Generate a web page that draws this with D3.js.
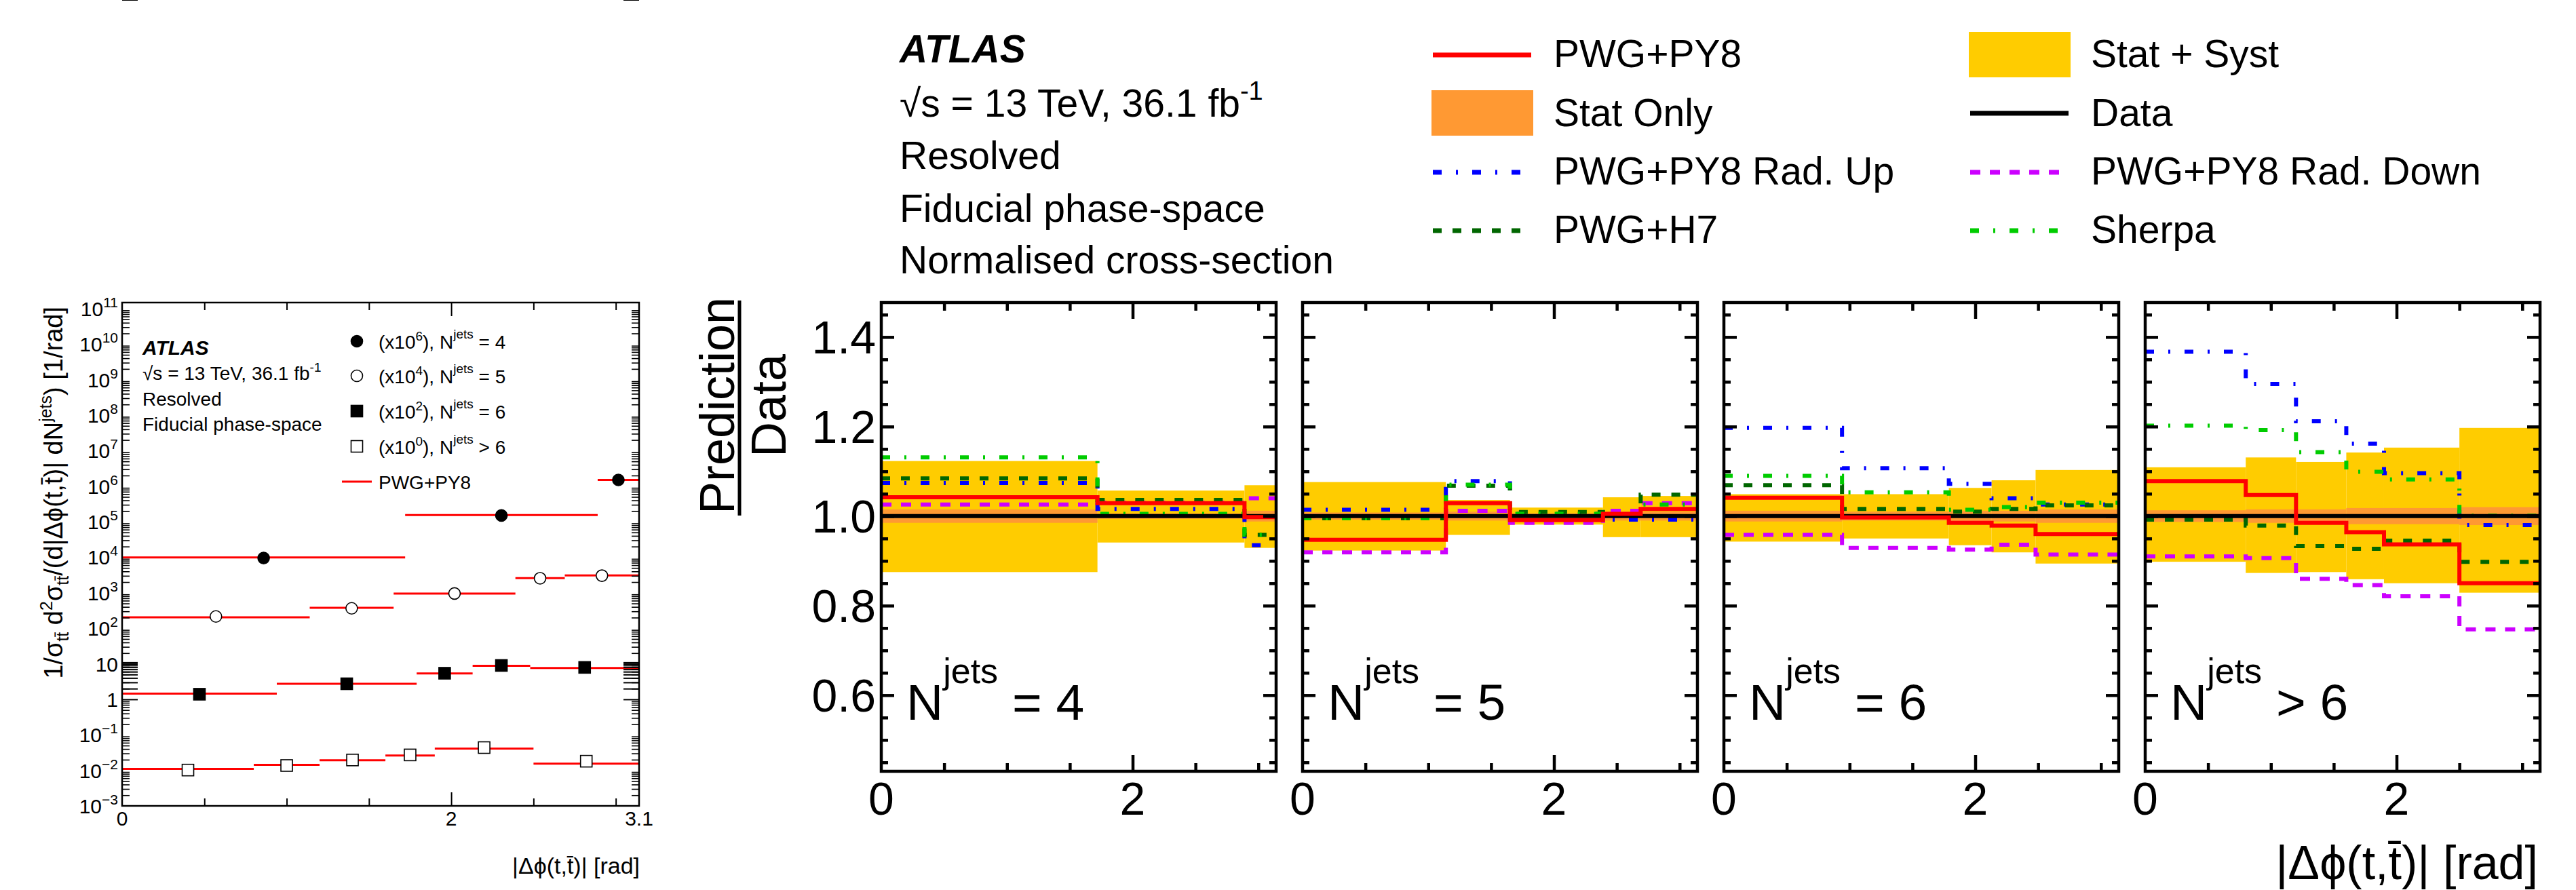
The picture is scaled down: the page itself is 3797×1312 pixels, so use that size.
<!DOCTYPE html>
<html>
<head>
<meta charset="utf-8">
<style>
body { margin: 0; background: #fff; }
svg { display: block; font-family: "Liberation Sans", Arial, Helvetica, sans-serif; }
text { white-space: pre; }
</style>
</head>
<body>
<svg width="3797" height="1312"></svg>
<script src="https://cdn.jsdelivr.net/npm/d3@7"></script>
<script>

// ---- data ----
// bin edges of |dphi(t,tbar)| for each jet multiplicity
var edges = [
  [0, 1.72, 2.89, 3.1416],
  [0, 1.14, 1.65, 2.39, 2.69, 3.1416],
  [0, 0.94, 1.79, 2.13, 2.48, 3.1416],
  [0, 0.8, 1.2, 1.6, 1.9, 2.5, 3.1416]
];
var njetLabels = ["= 4", "= 5", "= 6", "> 6"];
var scaleExp = [6, 4, 2, 0];

// normalised cross-section (unscaled), left panel
var dataXs = [
  [0.0095, 0.150, 1.50],
  [0.0215, 0.0365, 0.0955, 0.256, 0.303],
  [0.0139, 0.0274, 0.0542, 0.0897, 0.0791],
  [0.0102, 0.0137, 0.0196, 0.0272, 0.0438, 0.0181]
];
var pwgXs = [
  [0.0099, 0.154, 1.50],
  [0.0204, 0.0376, 0.0946, 0.257, 0.308],
  [0.0145, 0.0273, 0.0534, 0.0878, 0.0759],
  [0.0110, 0.0143, 0.0193, 0.0262, 0.0410, 0.0154]
];

// ratio prediction / data
var pwgPy8 = [[1.042, 1.029, 0.998], [0.947, 1.029, 0.991, 1.005, 1.016], [1.041, 0.997, 0.985, 0.979, 0.960], [1.078, 1.047, 0.985, 0.964, 0.937, 0.850]];
var radUp = [[1.074, 1.016, 0.935], [1.014, 1.078, 1.005, 0.992, 0.992], [1.197, 1.107, 1.072, 1.040, 1.026], [1.367, 1.295, 1.212, 1.162, 1.096, 0.980]];
var radDown = [[1.026, 1.030, 1.040], [0.919, 1.012, 0.985, 1.012, 1.029], [0.958, 0.929, 0.925, 0.936, 0.914], [0.910, 0.906, 0.860, 0.846, 0.821, 0.747]];
var pwgH7 = [[1.084, 1.036, 0.958], [0.995, 1.068, 1.009, 1.001, 1.048], [1.069, 1.016, 1.010, 1.016, 1.024], [0.992, 0.979, 0.933, 0.927, 0.945, 0.898]];
var sherpa = [[1.131, 1.005, 0.958], [0.995, 1.070, 1.005, 1.001, 1.026], [1.090, 1.053, 1.014, 1.020, 1.030], [1.202, 1.192, 1.143, 1.099, 1.082, 1.001]];
var dataRatio = [[1, 1, 1], [1, 1, 1, 1, 1], [1, 1, 1, 1, 1], [1, 1, 1, 1, 1, 1]];
// stat+syst band and stat only band
var totLo = [[0.875, 0.941, 0.929], [0.923, 0.958, 0.981, 0.953, 0.953], [0.943, 0.950, 0.935, 0.919, 0.894], [0.898, 0.873, 0.875, 0.859, 0.850, 0.829]];
var totHi = [[1.123, 1.057, 1.069], [1.076, 1.036, 1.019, 1.042, 1.045], [1.049, 1.049, 1.063, 1.080, 1.103], [1.109, 1.131, 1.121, 1.142, 1.153, 1.197]];
var statErr = [[0.015, 0.006, 0.012], [0.008, 0.010, 0.006, 0.010, 0.010], [0.012, 0.010, 0.012, 0.012, 0.015], [0.013, 0.015, 0.015, 0.018, 0.018, 0.020]];

var ratioTicks = [0.6, 0.8, 1.0, 1.2, 1.4];
var ratioTickLabels = ["0.6", "0.8", "1.0", "1.2", "1.4"];

// ---- styles ----
var series = [
  {name: "radUp",   vals: radUp,   color: "#0000ff", dash: "13,21,3,21"},
  {name: "radDown", vals: radDown, color: "#cc00ff", dash: "15,14"},
  {name: "h7",      vals: pwgH7,   color: "#006600", dash: "13,16"},
  {name: "sherpa",  vals: sherpa,  color: "#00cc00", dash: "13,21,3,21"},
  {name: "data",    vals: dataRatio, color: "#000000", dash: null},
  {name: "pwg",     vals: pwgPy8,  color: "#ff0000", dash: null}
];

var svg = d3.select("svg");

function inTicks(g, axisFn, scale, vals, len, tr, w) {
  g.append("g").attr("transform", tr)
    .call(axisFn(scale).tickValues(vals).tickSize(-len).tickFormat(""))
    .call(function(a) {
      a.select(".domain").remove();
      a.selectAll("text").remove();
      a.selectAll("line").attr("stroke", "#000").attr("stroke-width", w);
    });
}

function sup(t, base, s, size, dy) {
  t.append("tspan").text(base);
  t.append("tspan").attr("font-size", size).attr("dy", -dy).text(s);
}

// =================== left panel ===================
var L = {x0: 180, x1: 942, y0: 446, y1: 1188};
var lx = d3.scaleLinear().domain([0, 3.1416]).range([L.x0, L.x1]);
var ly = d3.scaleLog().domain([1e-3, Math.pow(10, 11.17)]).range([L.y1, L.y0]);
var left = svg.append("g");

// red prediction segments
dataXs.forEach(function(row, i) {
  var f = Math.pow(10, scaleExp[i]);
  left.append("g").selectAll("line").data(pwgXs[i]).enter().append("line")
    .attr("x1", function(d, j) { return lx(edges[i][j]); })
    .attr("x2", function(d, j) { return lx(edges[i][j + 1]); })
    .attr("y1", function(d) { return ly(d * f); })
    .attr("y2", function(d) { return ly(d * f); })
    .attr("stroke", "#ff0000").attr("stroke-width", 3);
});

// data markers
function marker(g, type, cx, cy) {
  var filled = (type === 0 || type === 2);
  if (type < 2) {
    g.append("circle").attr("cx", cx).attr("cy", cy).attr("r", 8.5)
      .attr("fill", filled ? "#000" : "#fff").attr("stroke", "#000").attr("stroke-width", 1.6);
  } else {
    g.append("rect").attr("x", cx - 8.5).attr("y", cy - 8.5).attr("width", 17).attr("height", 17)
      .attr("fill", filled ? "#000" : "#fff").attr("stroke", "#000").attr("stroke-width", 1.6);
  }
}
dataXs.forEach(function(row, i) {
  var f = Math.pow(10, scaleExp[i]);
  row.forEach(function(v, j) {
    var c = (edges[i][j] + edges[i][j + 1]) / 2;
    marker(left, i, lx(c), ly(v * f));
  });
});

// ticks
var decades = d3.range(-3, 12);
var minorLog = [];
d3.range(-3, 12).forEach(function(e) {
  for (var m = 2; m <= 9; m++) {
    var v = m * Math.pow(10, e);
    if (v < ly.domain()[1]) minorLog.push(v);
  }
});
var lxMinor = [0.5, 1, 1.5, 2.5, 3];
inTicks(left, d3.axisBottom, lx, lxMinor, 11, "translate(0," + L.y1 + ")", 2);
inTicks(left, d3.axisBottom, lx, [2], 20, "translate(0," + L.y1 + ")", 2);
inTicks(left, d3.axisTop, lx, lxMinor, 11, "translate(0," + L.y0 + ")", 2);
inTicks(left, d3.axisTop, lx, [2], 20, "translate(0," + L.y0 + ")", 2);
inTicks(left, d3.axisLeft, ly, decades, 23, "translate(" + L.x0 + ",0)", 2);
inTicks(left, d3.axisLeft, ly, minorLog, 11, "translate(" + L.x0 + ",0)", 1.6);
inTicks(left, d3.axisRight, ly, decades, 23, "translate(" + L.x1 + ",0)", 2);
inTicks(left, d3.axisRight, ly, minorLog, 11, "translate(" + L.x1 + ",0)", 1.6);

left.append("rect").attr("x", L.x0).attr("y", L.y0).attr("width", L.x1 - L.x0).attr("height", L.y1 - L.y0)
  .attr("fill", "none").attr("stroke", "#000").attr("stroke-width", 2.5);

// y tick labels
decades.forEach(function(e) {
  var t = left.append("text").attr("x", 174).attr("y", ly(Math.pow(10, e)) + 11)
    .attr("text-anchor", "end").attr("font-size", 30);
  if (e === 0) t.text("1");
  else if (e === 1) t.text("10");
  else sup(t, "10", (e < 0 ? "\u2212" : "") + Math.abs(e), 21, 13);
});
// x tick labels
[[0, "0"], [2, "2"], [3.1416, "3.1"]].forEach(function(d) {
  left.append("text").attr("x", lx(d[0])).attr("y", 1217).attr("text-anchor", "middle")
    .attr("font-size", 30).text(d[1]);
});
left.append("text").attr("x", 943).attr("y", 1288).attr("text-anchor", "end")
  .attr("font-size", 34).text("|\u0394\u03d5(t,t\u0304)| [rad]");

// y title
var yt = left.append("text").attr("transform", "translate(92,452) rotate(-90)")
  .attr("text-anchor", "end").attr("font-size", 38);
yt.append("tspan").text("1/\u03c3");
yt.append("tspan").attr("font-size", 25).attr("dy", 9).text("t\u0074\u0304");
yt.append("tspan").attr("dy", -9).text(" d");
yt.append("tspan").attr("font-size", 25).attr("dy", -15).text("2");
yt.append("tspan").attr("dy", 15).text("\u03c3");
yt.append("tspan").attr("font-size", 25).attr("dy", 9).text("t\u0074\u0304");
yt.append("tspan").attr("dy", -9).text("/(d|\u0394\u03d5(t,t\u0304)| dN");
yt.append("tspan").attr("font-size", 25).attr("dy", -16).text("jets");
yt.append("tspan").attr("dy", 16).text(") [1/rad]");

// ATLAS label
left.append("text").attr("x", 210).attr("y", 523).attr("font-size", 30)
  .attr("font-weight", "bold").attr("font-style", "italic").text("ATLAS");
var es = left.append("text").attr("x", 210).attr("y", 560).attr("font-size", 28);
sup(es, "\u221as = 13 TeV, 36.1 fb", "-1", 19, 12);
left.append("text").attr("x", 210).attr("y", 598).attr("font-size", 28).text("Resolved");
left.append("text").attr("x", 210).attr("y", 635).attr("font-size", 28).text("Fiducial phase-space");

// legend
var legY = [514, 565, 617, 669];
scaleExp.forEach(function(e, i) {
  marker(left, i, 526, legY[i] - 11);
  var t = left.append("text").attr("x", 558).attr("y", legY[i]).attr("font-size", 28);
  t.append("tspan").text("(x10");
  t.append("tspan").attr("font-size", 19).attr("dy", -12).text(e);
  t.append("tspan").attr("dy", 12).text("), N");
  t.append("tspan").attr("font-size", 19).attr("dy", -15).text("jets");
  t.append("tspan").attr("dy", 15).text(" " + njetLabels[i]);
});
left.append("line").attr("x1", 504).attr("x2", 548).attr("y1", 710).attr("y2", 710)
  .attr("stroke", "#ff0000").attr("stroke-width", 3);
left.append("text").attr("x", 558).attr("y", 721).attr("font-size", 28).text("PWG+PY8");

// =================== ratio panels ===================
var panelX = [1299, 1920, 2541, 3162];
var PW = 582, PY0 = 446, PY1 = 1137;
var ry = d3.scaleLinear().domain([0.43, 1.477]).range([PY1, PY0]);
var ryMajor = ratioTicks;
var ryMinor = d3.range(0.45, 1.476, 0.05).filter(function(v) {
  return ryMajor.every(function(m) { return Math.abs(m - v) > 1e-6; });
});

panelX.forEach(function(px, i) {
  var g = svg.append("g");
  var rx = d3.scaleLinear().domain([0, 3.1416]).range([px, px + PW]);
  var e = edges[i];

  // stat + syst band
  g.append("g").selectAll("rect").data(totHi[i]).enter().append("rect")
    .attr("x", function(d, j) { return rx(e[j]); })
    .attr("width", function(d, j) { return rx(e[j + 1]) - rx(e[j]); })
    .attr("y", function(d) { return ry(d); })
    .attr("height", function(d, j) { return ry(totLo[i][j]) - ry(d); })
    .attr("fill", "#ffcc00");
  // stat only band
  g.append("g").selectAll("rect").data(statErr[i]).enter().append("rect")
    .attr("x", function(d, j) { return rx(e[j]); })
    .attr("width", function(d, j) { return rx(e[j + 1]) - rx(e[j]); })
    .attr("y", function(d) { return ry(1 + d); })
    .attr("height", function(d) { return ry(1 - d) - ry(1 + d); })
    .attr("fill", "#ff9933");

  var line = d3.line().x(function(d) { return rx(d[0]); }).y(function(d) { return ry(d[1]); });
  series.forEach(function(s) {
    var pts = [];
    s.vals[i].forEach(function(v, j) { pts.push([e[j], v]); pts.push([e[j + 1], v]); });
    g.append("path").datum(pts).attr("d", line).attr("fill", "none")
      .attr("stroke", s.color).attr("stroke-width", 6)
      .attr("stroke-dasharray", s.dash);
  });

  // ticks
  var xMinor = [0.5, 1, 1.5, 2.5, 3];
  inTicks(g, d3.axisBottom, rx, xMinor, 12, "translate(0," + PY1 + ")", 4.5);
  inTicks(g, d3.axisBottom, rx, [2], 24, "translate(0," + PY1 + ")", 4.5);
  inTicks(g, d3.axisTop, rx, xMinor, 12, "translate(0," + PY0 + ")", 4.5);
  inTicks(g, d3.axisTop, rx, [2], 24, "translate(0," + PY0 + ")", 4.5);
  inTicks(g, d3.axisLeft, ry, ryMajor, 19, "translate(" + px + ",0)", 4.5);
  inTicks(g, d3.axisLeft, ry, ryMinor, 10, "translate(" + px + ",0)", 4.5);
  inTicks(g, d3.axisRight, ry, ryMajor, 19, "translate(" + (px + PW) + ",0)", 4.5);
  inTicks(g, d3.axisRight, ry, ryMinor, 10, "translate(" + (px + PW) + ",0)", 4.5);

  g.append("rect").attr("x", px).attr("y", PY0).attr("width", PW).attr("height", PY1 - PY0)
    .attr("fill", "none").attr("stroke", "#000").attr("stroke-width", 4.5);

  [[0, "0"], [2, "2"]].forEach(function(d) {
    g.append("text").attr("x", rx(d[0])).attr("y", 1201).attr("text-anchor", "middle")
      .attr("font-size", 68).text(d[1]);
  });

  var nt = g.append("text").attr("x", px + 37).attr("y", 1061).attr("font-size", 75);
  nt.append("tspan").text("N");
  nt.append("tspan").attr("font-size", 52).attr("dy", -54).text("jets");
  nt.append("tspan").attr("dy", 54).text(" " + njetLabels[i]);
});

// ratio y tick labels
ratioTicks.forEach(function(v, k) {
  svg.append("text").attr("x", 1291).attr("y", ry(v) + 24).attr("text-anchor", "end")
    .attr("font-size", 68).text(ratioTickLabels[k]);
});

// ratio y title
svg.append("text").attr("transform", "translate(1082,598) rotate(-90)").attr("text-anchor", "middle")
  .attr("font-size", 72).text("Prediction");
svg.append("line").attr("x1", 1090).attr("x2", 1090).attr("y1", 443).attr("y2", 760)
  .attr("stroke", "#000").attr("stroke-width", 5);
svg.append("text").attr("transform", "translate(1158,598) rotate(-90)").attr("text-anchor", "middle")
  .attr("font-size", 72).text("Data");

// ratio x title
svg.append("text").attr("x", 3741).attr("y", 1296).attr("text-anchor", "end")
  .attr("font-size", 70).text("|\u0394\u03d5(t,t\u0304)| [rad]");

// =================== top labels and legend ===================
svg.append("text").attr("x", 1326).attr("y", 92).attr("font-size", 57)
  .attr("font-weight", "bold").attr("font-style", "italic").text("ATLAS");
var es2 = svg.append("text").attr("x", 1326).attr("y", 172).attr("font-size", 57);
sup(es2, "\u221as = 13 TeV, 36.1 fb", "-1", 38, 25);
svg.append("text").attr("x", 1326).attr("y", 249).attr("font-size", 57).text("Resolved");
svg.append("text").attr("x", 1326).attr("y", 327).attr("font-size", 57).text("Fiducial phase-space");
svg.append("text").attr("x", 1326).attr("y", 403).attr("font-size", 57).text("Normalised cross-section");

var legRows = [81, 167, 254, 340];
var legBase = [99, 186, 272, 358];
var legend = [
  {col: 0, row: 0, kind: "line", color: "#ff0000", dash: null, label: "PWG+PY8"},
  {col: 0, row: 1, kind: "box", color: "#ff9933", label: "Stat Only"},
  {col: 0, row: 2, kind: "line", color: "#0000ff", dash: "13,21,3,21", label: "PWG+PY8 Rad. Up"},
  {col: 0, row: 3, kind: "line", color: "#006600", dash: "13,16", label: "PWG+H7"},
  {col: 1, row: 0, kind: "box", color: "#ffcc00", label: "Stat + Syst"},
  {col: 1, row: 1, kind: "line", color: "#000000", dash: null, label: "Data"},
  {col: 1, row: 2, kind: "line", color: "#cc00ff", dash: "15,14", label: "PWG+PY8 Rad. Down"},
  {col: 1, row: 3, kind: "line", color: "#00cc00", dash: "13,21,3,21", label: "Sherpa"}
];
var legX = [2110, 2902];
legend.forEach(function(d) {
  var x0 = legX[d.col];
  if (d.kind === "box") {
    svg.append("rect").attr("x", x0).attr("y", legRows[d.row] - 34).attr("width", 150).attr("height", 67)
      .attr("fill", d.color);
  } else {
    svg.append("line").attr("x1", x0 + 2).attr("x2", x0 + 147).attr("y1", legRows[d.row]).attr("y2", legRows[d.row])
      .attr("stroke", d.color).attr("stroke-width", 7).attr("stroke-dasharray", d.dash);
  }
  svg.append("text").attr("x", x0 + 180).attr("y", legBase[d.row]).attr("font-size", 57).text(d.label);
});

</script>
</body>
</html>
